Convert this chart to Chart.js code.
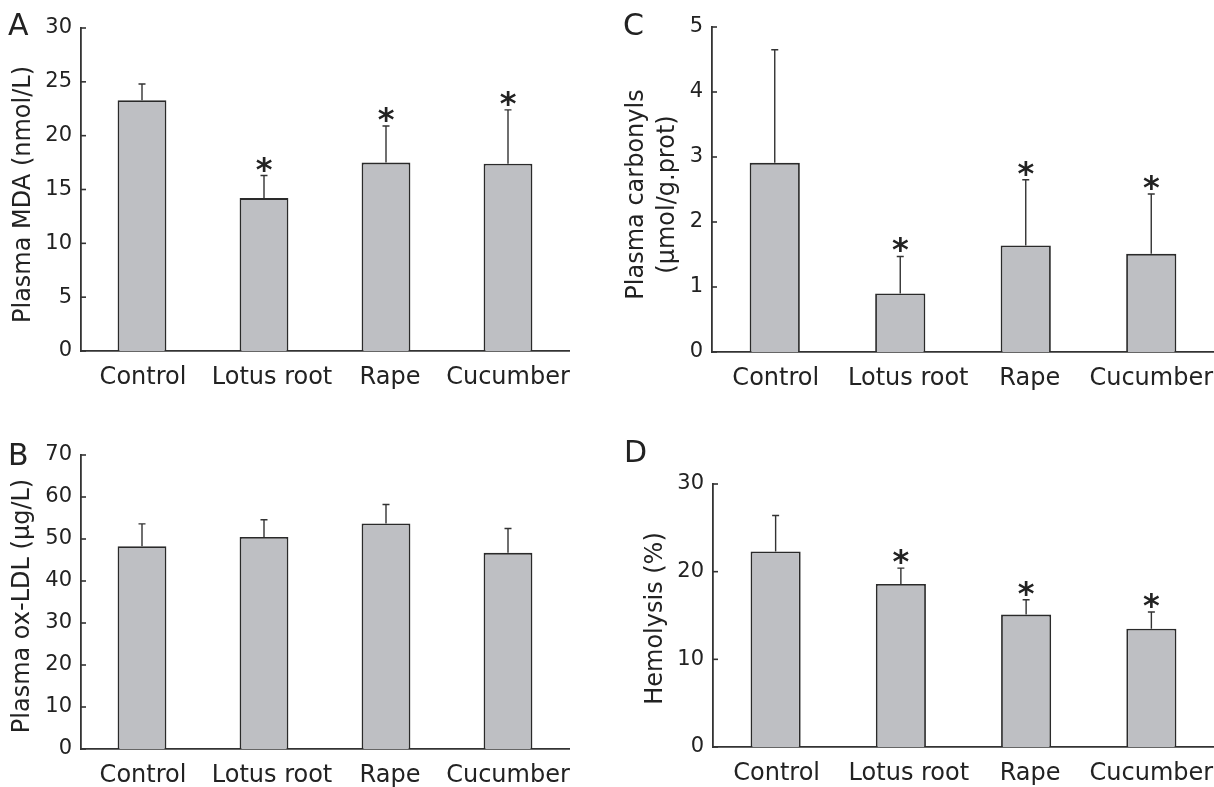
<!DOCTYPE html>
<html>
<head>
<meta charset="utf-8">
<script src="https://cdn.jsdelivr.net/npm/chart.js@4.4.1/dist/chart.umd.min.js"></script>
<style>
  body { margin: 0; background: #fff; }
  #wrap { position: relative; width: 1214px; height: 787px; overflow: hidden; }
  canvas { position: absolute; }
  .lbl { position: absolute; font: 30px/30px "DejaVu Sans", sans-serif; color: #222; }
</style>
</head>
<body>
<div id="wrap">
  <canvas id="chartA" width="600" height="400" style="left:0;top:0"></canvas>
  <canvas id="chartB" width="600" height="387" style="left:0;top:400px"></canvas>
  <canvas id="chartC" width="614" height="400" style="left:600px;top:0"></canvas>
  <canvas id="chartD" width="614" height="387" style="left:600px;top:400px"></canvas>
  <div class="lbl" style="left:8px;top:10px">A</div>
  <div class="lbl" style="left:8px;top:440px">B</div>
  <div class="lbl" style="left:623px;top:10px">C</div>
  <div class="lbl" style="left:624px;top:437px">D</div>
</div>
<script>
// groups on the x axis
var groups = ['Control', 'Lotus root', 'Rape', 'Cucumber'];

// A: plasma MDA (nmol/L)
var mdaMean = [23.3, 14.2, 17.5, 17.4];
var mdaSD = [1.5, 2.1, 3.4, 5.0];
var mdaSig = ['', '*', '*', '*'];

// B: plasma ox-LDL (µg/L)
var ldlMean = [48.3, 50.5, 53.7, 46.7];
var ldlSD = [5.3, 4.1, 4.5, 5.8];
var ldlSig = ['', '', '', ''];

// C: plasma carbonyls (µmol/g.prot)
var carbMean = [2.91, 0.90, 1.64, 1.51];
var carbSD = [1.74, 0.57, 1.01, 0.92];
var carbSig = ['', '*', '*', '*'];

// D: hemolysis (%)
var hemoMean = [22.3, 18.6, 15.1, 13.5];
var hemoSD = [4.1, 1.8, 1.7, 1.9];
var hemoSig = ['', '*', '*', '*'];

var FONT = '"DejaVu Sans", sans-serif';
var INK = '#222';
// the original figure sets some group names a little right of their bar
var labelNudge = [1, 8, 4, 0];

// error whiskers, significance stars, inward y ticks, group names and the y title
var extras = {
	id: 'extras',
	afterDatasetsDraw: function(chart, args, opts){
		var ctx = chart.ctx;
		var x = chart.scales.x;
		var y = chart.scales.y;
		var meta = chart.getDatasetMeta(0);
		ctx.save();
		ctx.strokeStyle = '#333';
		ctx.lineWidth = 1.4;
		opts.mean.forEach(function(m, i){
			var bx = meta.data[i].x;
			var y0 = y.getPixelForValue(m);
			var y1 = y.getPixelForValue(m + opts.sd[i]);
			ctx.beginPath();
			ctx.moveTo(bx, y0);
			ctx.lineTo(bx, y1);
			ctx.moveTo(bx - 3.5, y1);
			ctx.lineTo(bx + 3.5, y1);
			ctx.stroke();
			if(opts.sig[i]){
				ctx.fillStyle = INK;
				ctx.font = 'bold 32px ' + FONT;
				ctx.textAlign = 'center';
				ctx.textBaseline = 'alphabetic';
				ctx.fillText(opts.sig[i], bx, y1 + 4);
			}
		});
		// small ticks pointing into the plot
		ctx.lineWidth = 1.6;
		y.ticks.forEach(function(t){
			var py = y.getPixelForValue(t.value);
			ctx.beginPath();
			ctx.moveTo(chart.chartArea.left, py);
			ctx.lineTo(chart.chartArea.left + 5, py);
			ctx.stroke();
		});
		// group names under the axis
		ctx.fillStyle = INK;
		ctx.font = '24px ' + FONT;
		ctx.textAlign = 'center';
		ctx.textBaseline = 'alphabetic';
		groups.forEach(function(name, i){
			ctx.fillText(name, x.getPixelForTick(i) + labelNudge[i], chart.chartArea.bottom + opts.labelDy);
		});
		// rotated axis title
		var cy = (chart.chartArea.top + chart.chartArea.bottom) / 2 + opts.titleDy;
		opts.title.forEach(function(line, k){
			ctx.save();
			ctx.translate(opts.titleX[k], cy);
			ctx.rotate(-Math.PI / 2);
			ctx.fillText(line, 0, 0);
			ctx.restore();
		});
		ctx.restore();
	}
};

function makePanel(id, mean, sd, sig, yMax, step, title, g){
	var ctx = document.getElementById(id);
	return new Chart(ctx, {
		type: 'bar',
		data: {
			labels: groups,
			datasets: [{
				data: mean,
				backgroundColor: '#bebfc3',
				borderColor: '#2a2a2a',
				borderWidth: 1.8,
				barPercentage: 0.4,
				categoryPercentage: 1
			}]
		},
		options: {
			responsive: false,
			animation: false,
			layout: {
				padding: { top: g.top, right: g.right, left: 0, bottom: 0 }
			},
			plugins: {
				legend: { display: false },
				tooltip: { enabled: false },
				extras: { mean: mean, sd: sd, sig: sig, title: title, titleX: g.tx, titleDy: g.dy, labelDy: g.ly }
			},
			scales: {
				x: {
					grid: { display: false, drawTicks: false },
					border: { display: true, color: '#333', width: 1.8 },
					ticks: { display: false },
					afterFit: function(s){
						s.height = g.xh;
						s.paddingLeft = 0;
						s.paddingRight = 0;
					}
				},
				y: {
					min: 0,
					max: yMax,
					grid: { display: false, drawTicks: false },
					border: { display: true, color: '#333', width: 1.8 },
					ticks: {
						stepSize: step,
						color: INK,
						padding: 9,
						font: { family: FONT, size: 21 }
					},
					afterFit: function(s){ s.width = g.yw; }
				}
			}
		},
		plugins: [extras]
	});
}

makePanel('chartA', mdaMean, mdaSD, mdaSig, 30, 5, ['Plasma MDA (nmol/L)'],
	{ top: 28, right: 31, xh: 49, yw: 81, tx: [30], dy: 5, ly: 32.5 });
makePanel('chartB', ldlMean, ldlSD, ldlSig, 70, 10, ['Plasma ox-LDL (µg/L)'],
	{ top: 55, right: 31, xh: 38, yw: 81, tx: [29], dy: 4, ly: 33 });
makePanel('chartC', carbMean, carbSD, carbSig, 5, 1, ['Plasma carbonyls', '(µmol/g.prot)'],
	{ top: 27, right: 0, xh: 48, yw: 112, tx: [42.5, 73.5], dy: 5, ly: 32.5 });
makePanel('chartD', hemoMean, hemoSD, hemoSig, 30, 10, ['Hemolysis (%)'],
	{ top: 84, right: 0, xh: 40, yw: 113, tx: [62], dy: 3, ly: 33 });
</script>
</body>
</html>
